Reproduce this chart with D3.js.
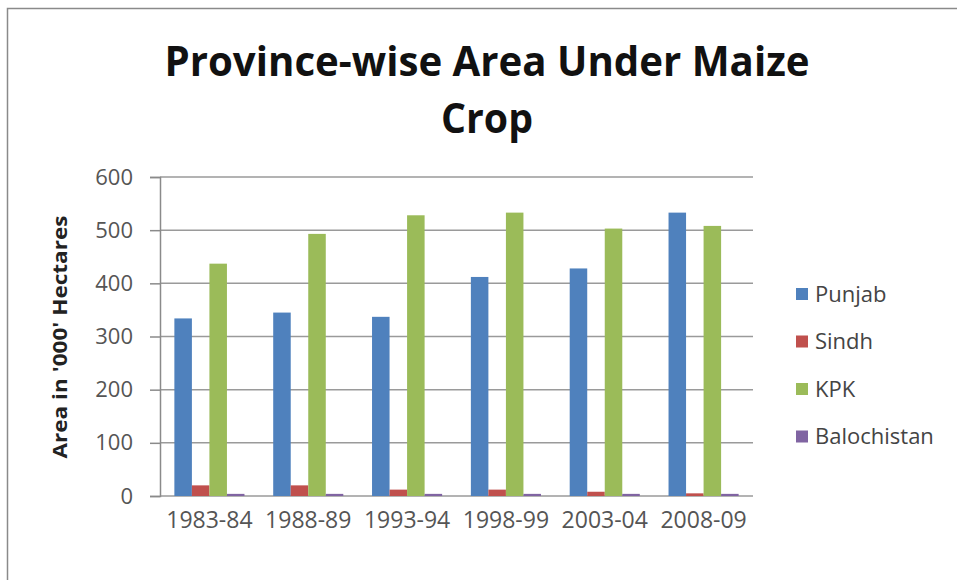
<!DOCTYPE html>
<html>
<head>
<meta charset="utf-8">
<script src="https://cdn.jsdelivr.net/npm/d3@7"></script>
<style>
  body { margin: 0; background: #fff; }
  svg { display: block; }
</style>
</head>
<body>
<svg id="chart" width="957" height="580"></svg>
<script>
// data
const years = ["1983-84", "1988-89", "1993-94", "1998-99", "2003-04", "2008-09"];
const provinces = ["Punjab", "Sindh", "KPK", "Balochistan"];
const punjab = [334, 345, 337, 412, 428, 533];
const sindh = [20, 20, 12, 12, 8, 5];
const kpk = [437, 493, 528, 533, 503, 508];
const balochistan = [4, 4, 4, 4, 4, 4];
const yTicks = [0, 100, 200, 300, 400, 500, 600];
const colors = ["#4F81BD", "#C0504D", "#9BBB59", "#8064A2"];

const series = [punjab, sindh, kpk, balochistan];
const rows = years.map((yr, i) => ({
  year: yr,
  vals: provinces.map((p, j) => ({ key: p, value: series[j][i] }))
}));

const svg = d3.select("#chart");
const font = "'Open Sans', sans-serif";

// outer frame
svg.append("rect")
  .attr("x", 7.5).attr("y", 8.5)
  .attr("width", 960).attr("height", 580)
  .attr("fill", "none")
  .attr("stroke", "#8a8a8a")
  .attr("stroke-width", 1.5);

const plotLeft = 160, plotRight = 753, plotTop = 177, plotBottom = 496;

const x0 = d3.scaleBand().domain(years).range([plotLeft, plotRight]).paddingInner(0).paddingOuter(0);
const x1 = d3.scaleBand().domain(provinces).range([0, x0.bandwidth()]).paddingInner(0).paddingOuter(0.82);
const y = d3.scaleLinear().domain([0, 600]).range([plotBottom, plotTop]);
const color = d3.scaleOrdinal().domain(provinces).range(colors);

// gridlines
svg.append("g")
  .selectAll("line")
  .data(yTicks)
  .enter()
  .append("line")
  .attr("x1", plotLeft).attr("x2", plotRight)
  .attr("y1", d => y(d)).attr("y2", d => y(d))
  .attr("stroke", "#9a9a9a")
  .attr("stroke-width", 1.5);

// y axis
const yAxis = svg.append("g")
  .attr("transform", `translate(${plotLeft},0)`)
  .call(d3.axisLeft(y).tickValues(yTicks).tickSize(10).tickPadding(17));
yAxis.select(".domain").attr("stroke", "#8a8a8a").attr("stroke-width", 1.5);
yAxis.selectAll(".tick line").attr("stroke", "#8a8a8a").attr("stroke-width", 1.5);
yAxis.selectAll(".tick text")
  .attr("font-family", font)
  .attr("font-size", 22)
  .attr("fill", "#555");

// bars
const groups = svg.append("g")
  .selectAll("g")
  .data(rows)
  .enter()
  .append("g")
  .attr("transform", d => `translate(${x0(d.year)},0)`);

groups.selectAll("rect")
  .data(d => d.vals)
  .enter()
  .append("rect")
  .attr("x", d => x1(d.key))
  .attr("width", x1.bandwidth())
  .attr("y", d => y(d.value))
  .attr("height", d => y(0) - y(d.value))
  .attr("fill", d => color(d.key));

// x axis labels
const xAxis = svg.append("g")
  .attr("transform", `translate(0,${plotBottom})`)
  .call(d3.axisBottom(x0).tickSize(0).tickPadding(16));
xAxis.select(".domain").remove();
xAxis.selectAll(".tick text")
  .attr("font-family", font)
  .attr("font-size", 23)
  .attr("fill", "#555");

// title
const title = svg.append("g")
  .attr("font-family", font)
  .attr("font-weight", "bold")
  .attr("font-size", 42)
  .attr("fill", "#111")
  .attr("text-anchor", "middle");
title.append("text").attr("x", 487).attr("y", 76)
  .attr("textLength", 645).attr("lengthAdjust", "spacingAndGlyphs")
  .text("Province-wise Area Under Maize");
title.append("text").attr("x", 487).attr("y", 133)
  .attr("textLength", 92).attr("lengthAdjust", "spacingAndGlyphs")
  .text("Crop");

// y label
svg.append("text")
  .attr("transform", "translate(67,337) rotate(-90)")
  .attr("text-anchor", "middle")
  .attr("font-family", font)
  .attr("font-weight", "bold")
  .attr("font-size", 20)
  .attr("textLength", 243)
  .attr("lengthAdjust", "spacingAndGlyphs")
  .attr("fill", "#222")
  .text("Area in '000' Hectares");

// legend
const legend = svg.append("g")
  .selectAll("g")
  .data(provinces)
  .enter()
  .append("g")
  .attr("transform", (d, i) => `translate(796,${294 + i * 47.5})`);
legend.append("rect")
  .attr("x", 0).attr("y", -6)
  .attr("width", 12).attr("height", 12)
  .attr("fill", d => color(d));
legend.append("text")
  .attr("x", 19).attr("y", 0)
  .attr("dy", "0.35em")
  .attr("font-family", font)
  .attr("font-size", 22)
  .attr("fill", "#444")
  .text(d => d);
</script>
</body>
</html>
